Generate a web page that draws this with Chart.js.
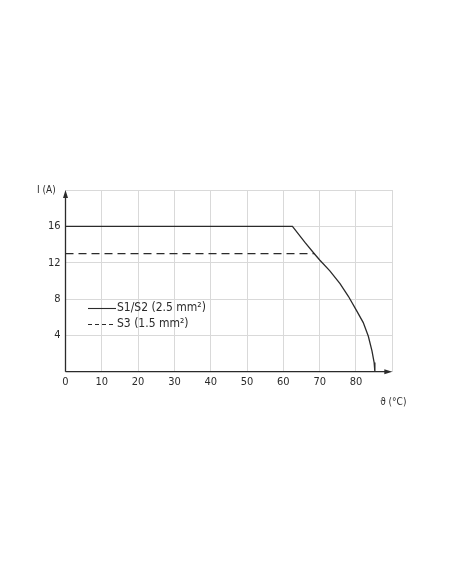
<!DOCTYPE html>
<html>
<head>
<meta charset="utf-8">
<script src="https://cdn.jsdelivr.net/npm/chart.js@4"></script>
<style>
  html, body { margin: 0; padding: 0; background: #fff; }
  #wrap { width: 452px; height: 584px; }
</style>
</head>
<body>
<div id="wrap"><canvas id="myChart"></canvas></div>
<script>
// values
const tempS12 = [0, 62.5, 66.0, 68.7, 70.0, 72.8, 75.6, 77.9, 80.2, 82.0, 83.4, 84.4, 85.0, 85.2];
const currentS12 = [16, 16, 14.2, 12.9, 12.3, 11.1, 9.7, 8.3, 6.7, 5.4, 3.9, 2.3, 1.0, 0];
const tempS3 = [0, 68.6];
const currentS3 = [13, 13];
const xTicks = [0, 10, 20, 30, 40, 50, 60, 70, 80];
const yTicks = [4, 8, 12, 16];
const labelS12 = 'S1/S2 (2.5 mm²)';
const labelS3 = 'S3 (1.5 mm²)';
const yTitle = 'I (A)';
const xTitle = 'ϑ (°C)';

const font = '"Liberation Sans Narrow", "DejaVu Sans Condensed", sans-serif';
const ink = '#2b2b2b';

const toPoints = (xs, ys) => xs.map((x, i) => ({x: x, y: ys[i]}));

// axes with arrows, legend and axis titles
const decor = {
  id: 'decor',
  afterDraw(chart) {
    const {ctx, scales: {x, y}} = chart;
    const x0 = x.getPixelForValue(0), xEnd = x.getPixelForValue(90);
    const y0 = y.getPixelForValue(0), yEnd = y.getPixelForValue(20);
    ctx.save();
    ctx.strokeStyle = ink;
    ctx.fillStyle = ink;
    ctx.lineWidth = 1.3;
    ctx.beginPath();
    ctx.moveTo(x0, y0);
    ctx.lineTo(x0, yEnd + 4);
    ctx.moveTo(x0, y0);
    ctx.lineTo(xEnd - 4, y0);
    ctx.stroke();
    // arrow heads
    ctx.beginPath();
    ctx.moveTo(x0, yEnd);
    ctx.lineTo(x0 - 2.5, yEnd + 8);
    ctx.lineTo(x0 + 2.5, yEnd + 8);
    ctx.closePath();
    ctx.fill();
    ctx.beginPath();
    ctx.moveTo(xEnd, y0);
    ctx.lineTo(xEnd - 8, y0 - 2.5);
    ctx.lineTo(xEnd - 8, y0 + 2.5);
    ctx.closePath();
    ctx.fill();

    // legend
    const lx = 88, lw = 28;
    ctx.lineWidth = 1.1;
    ctx.beginPath();
    ctx.moveTo(lx, 308.5);
    ctx.lineTo(lx + lw, 308.5);
    ctx.stroke();
    ctx.setLineDash([4, 3]);
    ctx.beginPath();
    ctx.moveTo(lx, 324.5);
    ctx.lineTo(lx + lw, 324.5);
    ctx.stroke();
    ctx.setLineDash([]);
    ctx.font = '12px ' + font;
    ctx.textBaseline = 'middle';
    ctx.textAlign = 'left';
    ctx.fillText(labelS12, lx + lw + 1, 308);
    ctx.fillText(labelS3, lx + lw + 1, 324);

    // axis titles
    ctx.font = '10px ' + font;
    ctx.fillText(yTitle, 37, 190);
    ctx.textAlign = 'center';
    ctx.fillText(xTitle, xEnd + 1, 402);
    ctx.restore();
  }
};

new Chart(document.getElementById('myChart'), {
  type: 'scatter',
  data: {
    datasets: [
      {
        label: labelS12,
        data: toPoints(tempS12, currentS12),
        showLine: true,
        borderColor: ink,
        borderWidth: 1.3,
        pointRadius: 0,
        tension: 0,
      },
      {
        label: labelS3,
        data: toPoints(tempS3, currentS3),
        showLine: true,
        borderColor: ink,
        borderWidth: 1.1,
        borderDash: [8, 5],
        pointRadius: 0,
      },
    ],
  },
  options: {
    responsive: true,
    maintainAspectRatio: false,
    animation: false,
    layout: {padding: {left: 0, top: 190, right: 59.7, bottom: 182.3}},
    plugins: {legend: {display: false}, tooltip: {enabled: false}},
    scales: {
      x: {
        type: 'linear',
        min: 0,
        max: 90,
        afterBuildTicks: (axis) => {
          axis.ticks = [...xTicks, 90].map((v) => ({value: v}));
        },
        afterFit: (axis) => { axis.height = 30; },
        ticks: {
          color: ink,
          font: {family: font, size: 11},
          padding: 4,
          maxRotation: 0,
          callback: (v) => (xTicks.includes(v) ? String(v) : ''),
        },
        grid: {color: '#d9d9d9', lineWidth: 1, drawTicks: false},
        border: {display: false},
      },
      y: {
        type: 'linear',
        min: 0,
        max: 20,
        afterBuildTicks: (axis) => {
          axis.ticks = [0, ...yTicks, 20].map((v) => ({value: v}));
        },
        afterFit: (axis) => { axis.width = 65.5; },
        ticks: {
          color: ink,
          font: {family: font, size: 11},
          padding: 5,
          callback: (v) => (yTicks.includes(v) ? String(v) : ''),
        },
        grid: {color: '#d9d9d9', lineWidth: 1, drawTicks: false},
        border: {display: false},
      },
    },
  },
  plugins: [decor],
});
</script>
</body>
</html>
